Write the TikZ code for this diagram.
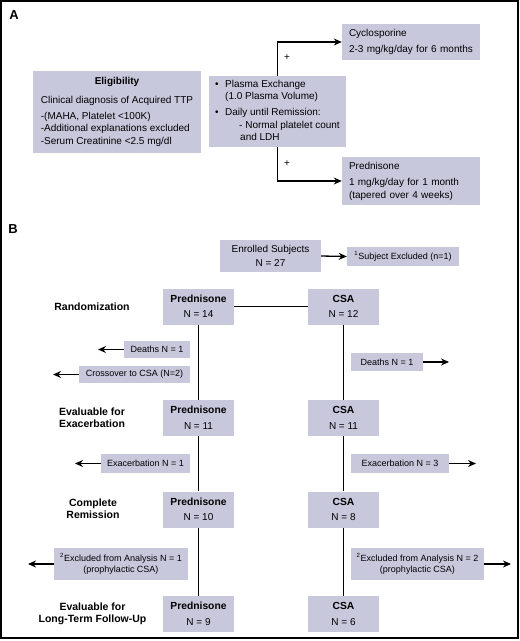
\documentclass[tikz,border=0pt]{standalone}
\usepackage{fontspec}
\setmainfont{Liberation Sans}
\usetikzlibrary{arrows.meta}
\definecolor{boxfill}{RGB}{200,200,221}
\tikzset{
  box/.style={fill=boxfill, draw=none, inner sep=0pt, font=\fontsize{10}{12.5}\selectfont},
  sbox/.style={fill=boxfill, draw=none, inner sep=0pt, font=\fontsize{9}{11.5}\selectfont},
  arr/.style={line width=1.3pt, -{Stealth[length=8pt,width=7pt]}},
  link/.style={line width=1.1pt},
  lbl/.style={font=\fontsize{10.5}{12}\selectfont\bfseries, align=center, inner sep=0pt},
  plus/.style={font=\fontsize{10}{12}\selectfont, inner sep=0pt},
  panel/.style={font=\fontsize{13}{14}\selectfont\bfseries, inner sep=0pt}
}
\begin{document}
\begin{tikzpicture}[x=1pt,y=-1pt]
\useasboundingbox (0,0) rectangle (520,641);
\draw[line width=2pt] (1,1) rectangle (518,638);

% ---------- Panel A ----------
\node[panel] (labA) at (14,15) {A};

\node[box, minimum width=168pt, minimum height=82pt] (elig) at (117,112)
  {\begin{tabular}{@{}l@{}}
   \multicolumn{1}{@{}c@{}}{\textbf{Eligibility}\hspace{8pt}}\\[6pt]
   Clinical diagnosis of Acquired TTP\\[3.5pt]
   -(MAHA, Platelet <100K)\\
   -Additional explanations excluded\\
   -Serum Creatinine <2.5 mg/dl
   \end{tabular}};

\node[box, minimum width=137pt, minimum height=71pt] (plasma) at (277.5,111.5)
  {\begin{tabular}{@{}p{10pt}@{}l@{}}
   \textbullet & Plasma Exchange\\
   & (1.0 Plasma Volume)\\[3.5pt]
   \textbullet & Daily until Remission:\\
   & \hspace{14pt}- Normal platelet count\\
   & \hspace{15pt}and LDH
   \end{tabular}};

\node[box, minimum width=138pt, minimum height=36pt, text width=124pt, align=left] (cyclo) at (411,42)
  {Cyclosporine\\[4pt]2-3 mg/kg/day for 6 months};

\node[box, minimum width=138pt, minimum height=48pt, text width=124pt, align=left] (predA) at (411,181)
  {Prednisone\\[4pt]1 mg/kg/day for 1 month\\(tapered over 4 weeks)};

\draw[arr] (plasma.north) |- (cyclo.west);
\draw[arr] (plasma.south) |- (predA.west);
\node[plus] (plus1) at (287,58) {+};
\node[plus] (plus2) at (287,164) {+};

% ---------- Panel B ----------
\node[panel] (labB) at (13,229) {B};

\node[box, minimum width=101pt, minimum height=32pt, align=center] (enrol) at (270.5,256)
  {Enrolled Subjects\\[2pt]N = 27};
\node[sbox, minimum width=112pt, minimum height=19pt] (excl1) at (403,256.5)
  {\textsuperscript{1}Subject Excluded (n=1)};
\draw[arr] (enrol.east) -- (excl1.west);

% column boxes
\foreach \nm/\x/\y/\t/\n in {p1/198.5/306.5/Prednisone/14, c1/343.5/306.5/CSA/12,
                           p2/198.5/418/Prednisone/11,   c2/343.5/418/CSA/11,
                           p3/198.5/509.5/Prednisone/10, c3/343.5/509.5/CSA/8,
                           p4/198.5/614/Prednisone/9,    c4/343.5/614/CSA/6}
  \node[box, minimum width=71pt, minimum height=36pt, align=center] (\nm) at (\x,\y)
    {\textbf{\fontsize{10.3}{12}\selectfont\t}\\[3pt]N = \n};

\draw[link] (p1) -- (c1);
\draw[link] (p1) -- (p2);
\draw[link] (p2) -- (p3);
\draw[link] (p3) -- (p4);
\draw[link] (c1) -- (c2);
\draw[link] (c2) -- (c3);
\draw[link] (c3) -- (c4);

% stage labels
\node[lbl] (s1) at (92,307) {Randomization};
\node[lbl] (s2) at (92,418) {Evaluable for\\Exacerbation};
\node[lbl] (s3) at (93,509) {Complete\\Remission};
\node[lbl] (s4) at (92.5,613.5) {Evaluable for\\Long-Term Follow-Up};

% side boxes
\node[sbox, minimum width=66pt, minimum height=17pt] (deathL) at (157,349.5) {Deaths N = 1};
\node[sbox, minimum width=111pt, minimum height=17pt] (cross) at (134.5,374.5) {Crossover to CSA (N=2)};
\node[sbox, minimum width=72pt, minimum height=18pt] (deathR) at (387,362) {Deaths N = 1};
\node[sbox, minimum width=89pt, minimum height=19pt] (exL) at (145.5,463.5) {Exacerbation N = 1};
\node[sbox, minimum width=98pt, minimum height=19pt] (exR) at (400,463.5) {Exacerbation N = 3};
\node[sbox, minimum width=134pt, minimum height=32pt, align=center] (exclL) at (121,564)
  {\textsuperscript{2}Excluded from Analysis N = 1\\(prophylactic CSA)};
\node[sbox, minimum width=133pt, minimum height=32pt, align=center] (exclR) at (417.5,564)
  {\textsuperscript{2}Excluded from Analysis N = 2\\(prophylactic CSA)};

\coordinate (eDL) at (98,349.5);
\coordinate (eCR) at (53,374.5);
\coordinate (eDR) at (449,362);
\coordinate (eXL) at (75,463.5);
\coordinate (eXR) at (476,463.5);
\coordinate (eEL) at (28,564);
\coordinate (eER) at (511,564);

\draw[arr] (deathL.west) -- (eDL);
\draw[arr] (cross.west) -- (eCR);
\draw[arr] (deathR.east) -- (eDR);
\draw[arr] (exL.west) -- (eXL);
\draw[arr] (exR.east) -- (eXR);
\draw[arr] (exclL.west) -- (eEL);
\draw[arr] (exclR.east) -- (eER);
\end{tikzpicture}
\end{document}
